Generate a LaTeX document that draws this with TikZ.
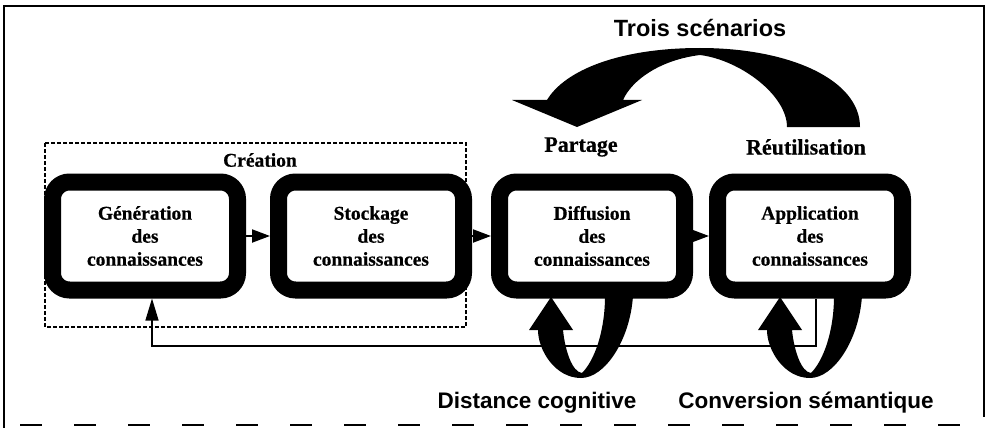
\documentclass[tikz,border=0pt]{standalone}
\usepackage{fontspec}
\setmainfont{Liberation Serif}
\newfontfamily\sansfont{Liberation Sans}
\newfontfamily\heavyserif{Liberation Serif}[BoldFeatures={FakeBold=0.6}]
\usetikzlibrary{arrows.meta,calc}
\begin{document}
\begin{tikzpicture}[x=1pt,y=-1pt,
  proc/.style={draw=black, fill=white, line width=17pt, rounded corners=17pt,
    minimum width=185pt, minimum height=108pt, align=center, inner sep=0pt,
    font=\heavyserif\fontsize{19.5}{23}\selectfont\bfseries},
  flow/.style={line width=2pt, -{Triangle[length=18pt,width=13pt]}},
  feedback/.style={line width=1.3pt, -{Triangle[length=22pt,width=13pt]}},
  serlabel/.style={font=\heavyserif\fontsize{22}{26}\selectfont\bfseries},
  sanslabel/.style={font=\sansfont\fontsize{22.5}{26}\selectfont\bfseries},
  frameline/.style={line width=1.5pt},
  groupbox/.style={line width=1.2pt, dash pattern=on 4pt off 2pt}]
\useasboundingbox (0,0) rectangle (989,428);

% outer frame
\draw[frameline] (4,428) -- (4,6) -- (984,6) -- (984,417);
\draw[frameline, dash pattern=on 22pt off 32pt] (20,425) -- (984,425);

% creation group
\draw[groupbox] (45,143) rectangle (466,327);
\node[font=\heavyserif\fontsize{19.5}{23}\selectfont\bfseries] (crea) at (260,160) {Création};

% feedback line coordinates
\coordinate (fr) at (816,346);
\coordinate (fl) at (152,346);

% boxes
\node[proc] (b1) at (145,236) {Génération\\des\\connaissances};
\node[proc] (b2) at (371,236) {Stockage\\des\\connaissances};
\node[proc] (b3) at (592,236) {Diffusion\\des\\connaissances};
\node[proc] (b4) at (810,236) {Application\\des\\connaissances};

\draw[feedback] (b4.south -| fr) -- (fr) -- (fl) -- (fl |- b1.south);

\draw[flow] (b1.east) -- (b2.west);
\draw[flow] (b2.east) -- (b3.west);
\draw[flow] (b3.east) -- (b4.west);

% labels
\node[sanslabel, font=\sansfont\fontsize{23.5}{27}\selectfont\bfseries] (trois) at (700,28) {Trois scénarios};
\node[serlabel] (part) at (581,147) {Partage};
\node[serlabel] (reut) at (806,147) {Réutilisation};
\node[sanslabel] (dist) at (537,403) {Distance cognitive};
\node[sanslabel] (conv) at (806,403) {Conversion sémantique};

% big curved arrow (three scenarios)
\fill[black] (860,127) .. controls (860,80) and (790,48) .. (700,48)
  .. controls (620,48) and (565,70) .. (547,100)
  -- (512,100) -- (577,127) -- (642,100) -- (623,100)
  .. controls (632,80) and (660,60) .. (700,55)
  .. controls (740,60) and (787,95) .. (787,127) -- cycle;

% loop arrows under Diffusion and Application
\foreach \dx in {0,229}{
\begin{scope}[xshift=\dx]
\fill[black] (633,296) .. controls (630,340) and (605,378) .. (581,378)
  .. controls (555,378) and (538,350) .. (538,330)
  -- (529,330) -- (551,297) -- (573,330) -- (563,330)
  .. controls (565,350) and (572,372) .. (582,373)
  .. controls (595,360) and (605,330) .. (605,296) -- cycle;
\end{scope}}
\end{tikzpicture}
\end{document}
